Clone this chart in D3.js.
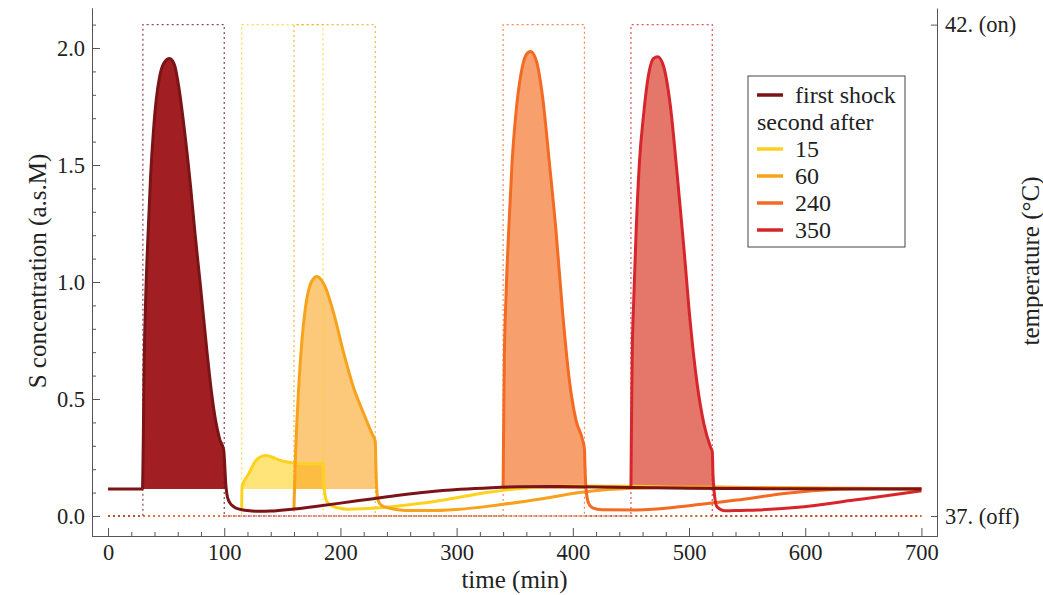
<!DOCTYPE html>
<html>
<head>
<meta charset="utf-8">
<script src="https://cdn.jsdelivr.net/npm/d3@7"></script>
<style>
  body { margin: 0; background: #fff; }
  text { font-family: "Liberation Serif", "Times New Roman", Tinos, serif; fill: #222; }
</style>
</head>
<body>
<svg id="chart"></svg>
<script>
// values (time in min, S concentration in a.s.M)
const baseline = 0.115;

const firstShock = [[0,0.115],[29.6,0.115],[30,0.2],[30.4,0.35],[30.8,0.55],[32.3,0.91],[34.3,1.19],[36.6,1.45],[39,1.64],
  [41.5,1.78],[44.5,1.88],[48,1.935],[53,1.955],[57,1.93],[61,1.83],[65,1.68],[71,1.41],[75,1.2],[79.6,0.98],
  [85.3,0.695],[89,0.53],[92.5,0.41],[96,0.33],[99.6,0.28],[100.4,0.22],[101.3,0.14],[102.8,0.08],[105,0.055],
  [108,0.04],[114,0.028],[120,0.023],[130,0.02],[140,0.021],[160,0.03],[180,0.042],[200,0.055],[225,0.072],
  [252,0.09],[275,0.103],[303,0.114],[330,0.121],[355,0.125],[380,0.126],[406,0.125],[450,0.122],[500,0.119],
  [550,0.117],[600,0.116],[700,0.115]];

const after15 = [[115,0.027],[115.3,0.125],[121,0.18],[127,0.235],[131,0.252],[135.5,0.258],[141,0.252],[147,0.24],
  [153,0.232],[160,0.227],[171,0.222],[180,0.223],[185,0.226],[185.6,0.15],[186.5,0.098],[188,0.065],[191.5,0.047],
  [198.5,0.034],[206,0.029],[234.5,0.035],[269,0.054],[297.6,0.076],[326,0.1],[355,0.118],[400,0.128],[450,0.127],
  [500,0.122],[600,0.117],[700,0.115]];

const after60 = [[160,0.032],[160.5,0.12],[161.2,0.24],[162.5,0.4],[163.8,0.525],[166.7,0.74],[169.6,0.88],[173.9,0.987],
  [177,1.015],[179.6,1.023],[182.5,1.015],[186.8,0.98],[194,0.87],[202.6,0.7],[211.2,0.55],[219.8,0.44],[226.9,0.355],
  [230,0.318],[230.6,0.2],[231.5,0.1],[233,0.06],[235.5,0.045],[242.5,0.033],[256,0.024],[275,0.023],[300,0.028],
  [340,0.05],[375,0.075],[406,0.1],[430,0.113],[460,0.12],[500,0.125],[560,0.122],[700,0.116]];

const after240 = [[340,0.125],[340.4,0.35],[341,0.654],[342.5,0.937],[344.8,1.22],[347.7,1.51],[351,1.72],[355.4,1.89],
  [359.7,1.97],[363.5,1.985],[368.3,1.95],[374,1.79],[379.8,1.51],[385.5,1.22],[391.2,0.87],[397,0.58],[402.7,0.41],
  [408.4,0.325],[410,0.285],[410.6,0.19],[411.5,0.11],[413.5,0.055],[417,0.035],[425,0.027],[455,0.026],[498,0.043],
  [541,0.068],[584,0.097],[627,0.114],[660,0.118],[700,0.118]];

const after350 = [[450,0.12],[450.4,0.35],[451,0.654],[452.5,0.937],[454.5,1.22],[457.3,1.51],[461,1.72],[465.3,1.89],
  [469.5,1.956],[473.1,1.963],[478.2,1.92],[484,1.75],[489.7,1.465],[495.5,1.15],[501.2,0.82],[506.9,0.567],
  [512.7,0.396],[518.4,0.296],[520,0.275],[520.6,0.18],[521.5,0.11],[524,0.04],[531,0.022],[545,0.024],[559,0.026],
  [599,0.04],[642,0.068],[685,0.097],[700,0.108]];

// heat on / off times (temperature 37 -> 42 -> 37)
const heatWindows = [[30,100],[115,185],[160,230],[340,410],[450,520]];
const seriesNames = ["first shock","15","60","240","350"];
const lineColors = ["#7b1416","#fdd21f","#f8a21c","#f36a23","#d7262b"];
const fillColors = ["#a11f23","#fdd21f","#f9a51f","#f7a06e","#e5776a"];
const fillOpacity = [1,0.6,0.6,1,1];
const xTicks = [0,100,200,300,400,500,600,700];
const yTicks = [0,0.5,1,1.5,2];
const tempTicks = [37,42];

const curves = [firstShock, after15, after60, after240, after350];
const series = seriesNames.map((name, i) => ({
  name, data: curves[i], heat: heatWindows[i], line: lineColors[i], fill: fillColors[i], fillOpacity: fillOpacity[i]
}));

const width = 1043, height = 595;
const margin = {left: 92, right: 106, top: 8, bottom: 59};

const svg = d3.select("#chart").attr("width", width).attr("height", height);

const x = d3.scaleLinear().domain([-13.8, 713.4]).range([margin.left, width - margin.right]);
const y = d3.scaleLinear().domain([-0.0855, 2.171]).range([height - margin.bottom, margin.top]);
// 37 sits at S = 0, 42 at S = 2.1
const toTemp = v => 37 + v * 5 / 2.1;
const temp = d3.scaleLinear().domain(y.domain().map(toTemp)).range(y.range());

const line = d3.line().x(d => x(d[0])).y(d => y(d[1])).curve(d3.curveMonotoneX);
const area = d3.area().x(d => x(d[0])).y0(y(baseline)).y1(d => y(Math.max(d[1], baseline))).curve(d3.curveMonotoneX);
const tempLine = d3.line().x(d => x(d[0])).y(d => temp(d[1]));

// filled regions during each heat shock
svg.append("g").selectAll("path")
  .data(series)
  .join("path")
  .attr("d", s => area(s.data.filter(d => d[0] >= s.heat[0] && d[0] <= s.heat[1] + 2)))
  .attr("fill", s => s.fill)
  .attr("fill-opacity", s => s.fillOpacity);

// temperature protocol, dotted
const drawOrder = [1,2,3,4,0];
svg.append("g").selectAll("path")
  .data(drawOrder.map(i => series[i]))
  .join("path")
  .attr("d", s => tempLine([[0,37],[s.heat[0],37],[s.heat[0],42],[s.heat[1],42],[s.heat[1],37],[700,37]]))
  .attr("fill", "none")
  .attr("stroke", s => s.line)
  .attr("stroke-opacity", 0.8)
  .attr("stroke-width", 1.2)
  .attr("stroke-dasharray", "2,3");

// concentration curves, first shock on top
svg.append("g").selectAll("path")
  .data(drawOrder.map(i => series[i]))
  .join("path")
  .attr("d", s => line(s.data))
  .attr("fill", "none")
  .attr("stroke", s => s.line)
  .attr("stroke-width", 3)
  .attr("stroke-linejoin", "round");

// axes
const axisColor = "#555";
const styleAxis = g => {
  g.selectAll(".domain").attr("stroke", axisColor);
  g.selectAll(".tick line").attr("stroke", axisColor);
  g.selectAll("text").attr("font-size", 22.5).attr("fill", "#222")
    .attr("font-family", null);
};

const yMinor = d3.range(0, 22).map(i => i / 10).filter(v => !yTicks.some(t => Math.abs(t - v) < 1e-6));
svg.append("g").attr("transform", `translate(${margin.left},0)`)
  .call(d3.axisLeft(y).tickValues(yMinor).tickSizeInner(-4).tickSizeOuter(0).tickFormat(""))
  .call(styleAxis);
svg.append("g").attr("transform", `translate(${margin.left},0)`)
  .call(d3.axisLeft(y).tickValues(yTicks).tickSizeInner(-8).tickSizeOuter(0).tickPadding(7).tickFormat(d3.format(".1f")))
  .call(styleAxis);

const xMinor = d3.range(0, 701, 20).filter(v => v % 100 !== 0);
svg.append("g").attr("transform", `translate(0,${height - margin.bottom})`)
  .call(d3.axisBottom(x).tickValues(xMinor).tickSizeInner(-4).tickSizeOuter(0).tickFormat(""))
  .call(styleAxis);
svg.append("g").attr("transform", `translate(0,${height - margin.bottom})`)
  .call(d3.axisBottom(x).tickValues(xTicks).tickSizeInner(-8).tickSizeOuter(0).tickPadding(8))
  .call(styleAxis);

svg.append("g").attr("transform", `translate(${width - margin.right},0)`)
  .call(d3.axisRight(temp).tickValues(tempTicks).tickSizeInner(-6).tickSizeOuter(0).tickPadding(8)
    .tickFormat(d => d === 42 ? "42. (on)" : "37. (off)"))
  .call(styleAxis);

// axis titles
svg.append("text")
  .attr("x", (margin.left + width - margin.right) / 2)
  .attr("y", 588)
  .attr("text-anchor", "middle")
  .attr("font-size", 25)
  .text("time (min)");
svg.append("text")
  .attr("transform", "translate(46,271) rotate(-90)")
  .attr("text-anchor", "middle")
  .attr("font-size", 25)
  .text("S concentration (a.s.M)");
svg.append("text")
  .attr("transform", "translate(1039,261) rotate(-90)")
  .attr("text-anchor", "middle")
  .attr("font-size", 25)
  .text("temperature (°C)");

// legend
const legend = svg.append("g").attr("transform", "translate(748,76)");
legend.append("rect")
  .attr("width", 157).attr("height", 171)
  .attr("fill", "#fff").attr("stroke", "#444").attr("stroke-width", 1);
const rows = [
  {label: "first shock", color: lineColors[0]},
  {label: "second after", color: null},
  {label: "15", color: lineColors[1]},
  {label: "60", color: lineColors[2]},
  {label: "240", color: lineColors[3]},
  {label: "350", color: lineColors[4]}
];
const item = legend.selectAll("g").data(rows).join("g")
  .attr("transform", (d, i) => `translate(0,${19 + i * 27})`);
item.filter(d => d.color)
  .append("line")
  .attr("x1", 9).attr("x2", 35)
  .attr("stroke", d => d.color).attr("stroke-width", 3.5);
item.append("text")
  .attr("x", d => d.color ? 47 : 9)
  .attr("y", 7.5)
  .attr("font-size", 24)
  .text(d => d.label);
</script>
</body>
</html>
